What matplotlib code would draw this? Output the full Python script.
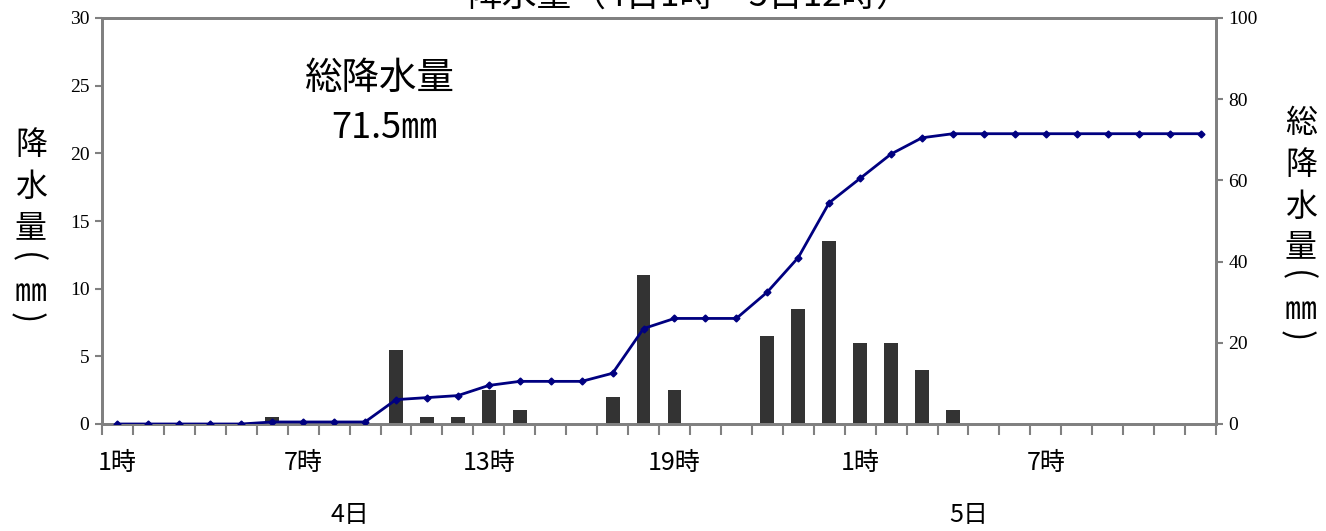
import numpy as np
import matplotlib
matplotlib.use('Agg')
import matplotlib.pyplot as plt
import matplotlib.transforms as mtransforms

plt.rcParams['font.family'] = ['Noto Sans CJK JP', 'DejaVu Sans']

# hourly rainfall, 4日 1時 .. 5日 12時 (36 hours)
hours = ['1時', '2時', '3時', '4時', '5時', '6時', '7時', '8時', '9時', '10時', '11時', '12時',
         '13時', '14時', '15時', '16時', '17時', '18時', '19時', '20時', '21時', '22時', '23時', '24時',
         '1時', '2時', '3時', '4時', '5時', '6時', '7時', '8時', '9時', '10時', '11時', '12時']
rain = [0, 0, 0, 0, 0, 0.5, 0, 0, 0, 5.5, 0.5, 0.5,
        2.5, 1.0, 0, 0, 2.0, 11.0, 2.5, 0, 0, 6.5, 8.5, 13.5,
        6.0, 6.0, 4.0, 1.0, 0, 0, 0, 0, 0, 0, 0, 0]
total = [0, 0, 0, 0, 0, 0.5, 0.5, 0.5, 0.5, 6.0, 6.5, 7.0,
         9.5, 10.5, 10.5, 10.5, 12.5, 23.5, 26.0, 26.0, 26.0, 32.5, 41.0, 54.5,
         60.5, 66.5, 70.5, 71.5, 71.5, 71.5, 71.5, 71.5, 71.5, 71.5, 71.5, 71.5]
label_idx = [0, 6, 12, 18, 24, 30]
days = ['4日', '5日']
day_pos = [7.5, 27.5]

x = np.arange(len(rain))
grey = '#808080'
W, H = 1326, 531

fig = plt.figure(figsize=(W / 100, H / 100), dpi=100)
ax = fig.add_axes([102/W, 1 - 424/H, (1216 - 102)/W, (424 - 18)/H])
ax.bar(x, rain, width=0.45, color='#333333', zorder=2)
ax.set_xlim(-0.5, len(rain) - 0.5)
ax.set_ylim(0, 30)
ax.set_yticks(np.arange(0, 31, 5))

ax2 = ax.twinx()
ax2.plot(x, total, color='#000080', lw=2, marker='D', ms=3.5, zorder=3)
ax2.set_ylim(0, 100)
ax2.set_yticks(np.arange(0, 101, 20))

for a in (ax, ax2):
    for s in a.spines.values():
        s.set_color(grey)
        s.set_linewidth(2)
    a.tick_params(axis='y', colors=grey, length=5, width=1.5, labelsize=14,
                  labelcolor='black', pad=4)
    for t in a.get_yticklabels():
        t.set_fontfamily('Liberation Serif')

ax.set_xticks(np.arange(-0.5, len(rain), 1), minor=True)
ax.tick_params(axis='x', which='minor', length=8, width=1.5, color=grey)
ax.set_xticks(label_idx)
ax.set_xticklabels([hours[i] for i in label_idx], fontsize=18)
ax.tick_params(axis='x', which='major', length=0, pad=19)

trans = mtransforms.blended_transform_factory(ax.transData, fig.transFigure)
for d, p in zip(days, day_pos):
    ax.text(p, 1 - 515/H, d, transform=trans, ha='center', va='center', fontsize=18)

fig.text(380/W, 1 - 78/H, '総降水量', ha='center', va='center', fontsize=27)
fig.text(384/W, 1 - 128/H, '71.5㎜', ha='center', va='center', fontsize=26)

# vertical axis titles, one character per line, brackets turned sideways
def vlabel(xp, chars, ys):
    for c, yp in zip(chars, ys):
        if c in '()':
            fig.text((xp - 5)/W, 1 - yp/H, c, ha='center', va='center', fontsize=24, rotation=-90)
        else:
            fig.text(xp/W, 1 - yp/H, c, ha='center', va='center', fontsize=23)

vlabel(31, ['降', '水', '量', '(', '㎜', ')'], [145, 187, 228, 258, 292, 318])
vlabel(1301, ['総', '降', '水', '量', '(', '㎜', ')'], [123, 165, 207, 247, 276, 310, 336])

fig.text(0.52, 1 - 7/H, '降水量（4日1時～5日12時）', ha='center', va='baseline', fontsize=25)

fig.savefig('out.png', dpi=100)
